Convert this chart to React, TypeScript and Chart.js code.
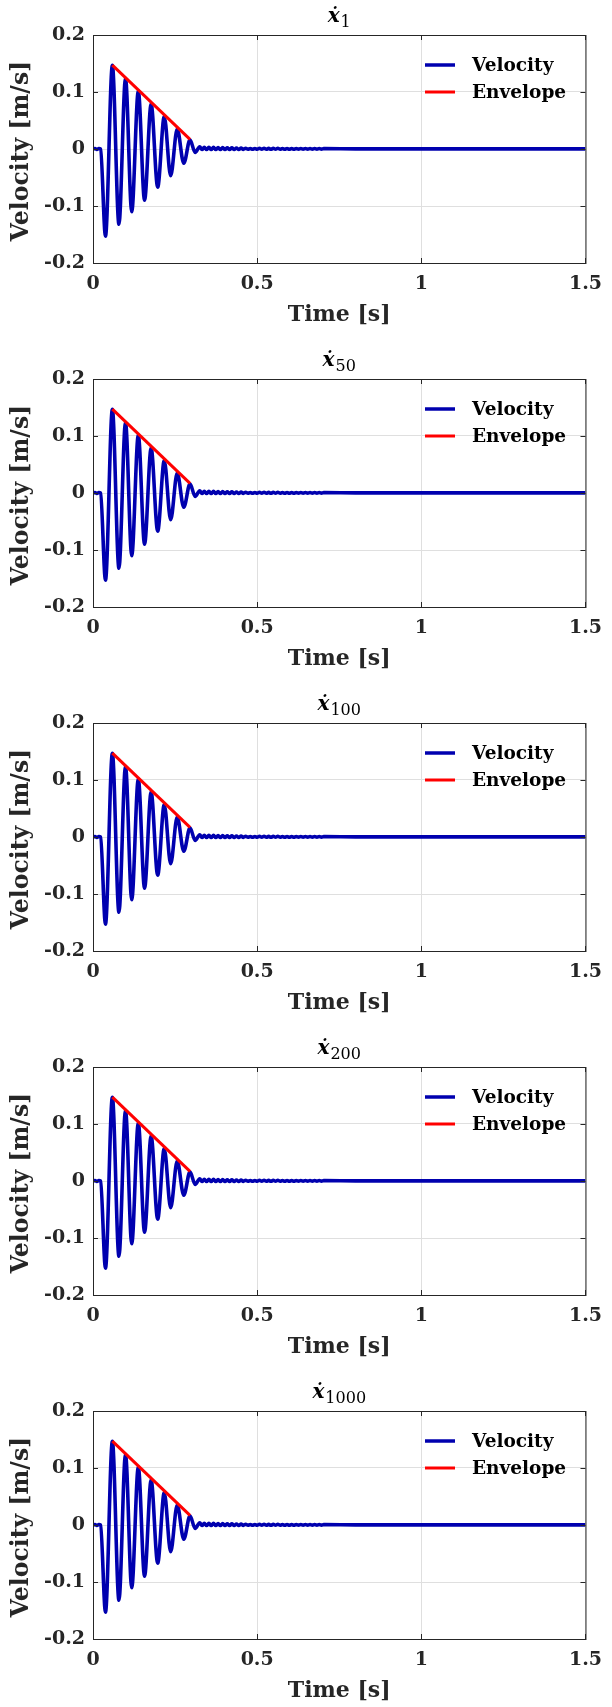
import React, { useEffect, useRef } from "react";
import { Chart, registerables } from "chart.js";

Chart.register(...registerables);

// ---- data ----
const timeS = [
  0.0, 0.006, 0.012, 0.018, 0.023, 0.038, 0.059, 0.079, 0.099, 0.118, 0.138,
  0.157, 0.177, 0.197, 0.217, 0.2365, 0.2565, 0.2765, 0.2955, 0.311, 0.325,
  0.332, 0.339, 0.346, 0.353, 0.36, 0.367, 0.374, 0.381, 0.388, 0.395, 0.402,
  0.409, 0.416, 0.423, 0.43, 0.437, 0.444, 0.451, 0.458, 0.465, 0.472, 0.479,
  0.486, 0.493, 0.5, 0.507, 0.514, 0.521, 0.528, 0.535, 0.542, 0.549, 0.556,
  0.563, 0.57, 0.577, 0.584, 0.591, 0.598, 0.605, 0.612, 0.619, 0.626, 0.633,
  0.64, 0.647, 0.654, 0.661, 0.668, 0.675, 0.682, 0.689, 0.696, 0.703, 0.8,
  1.0, 1.5,
];
const velocity = [
  0.0, 0.001, -0.001, 0.001, 0.0, -0.153, 0.147, -0.132, 0.124, -0.11, 0.102,
  -0.09, 0.079, -0.067, 0.057, -0.047, 0.035, -0.025, 0.016, -0.006, 0.004,
  -0.001, 0.003, -0.001, 0.003, -0.001, 0.003, -0.001, 0.0025, -0.001, 0.0025,
  -0.001, 0.002, -0.001, 0.002, -0.0008, 0.0018, -0.0008, 0.0015, -0.0006,
  0.0012, -0.0005, 0.001, -0.0004, 0.0008, -0.0005, 0.0012, -0.0005, 0.0012,
  -0.0005, 0.0011, -0.0005, 0.0011, -0.0004, 0.0011, -0.0004, 0.001, -0.0004,
  0.001, -0.0004, 0.001, -0.0004, 0.0009, -0.0003, 0.0009, -0.0003, 0.0009,
  -0.0003, 0.0008, -0.0003, 0.0008, -0.0003, 0.0008, -0.0003, 0.0007, 0.0003,
  0.0002, 0.0002,
];
const envelopeTime = [0.059, 0.2955];
const envelopeVel = [0.147, 0.017];
const subscripts = ["1", "50", "100", "200", "1000"];
const legendLabels = ["Velocity", "Envelope"];
const xTickValues = [0, 0.5, 1, 1.5];
const yTickValues = [-0.2, -0.1, 0, 0.1, 0.2];
const xLabel = "Time [s]";
const yLabel = "Velocity [m/s]";

const FONT = '"DejaVu Serif", serif';
const DARK = "#262626";
const BLUE = "rgb(0,0,175)";
const RED = "#ff0000";
const W = 612;
const H = 344;

function fmt(v: number): string {
  const r = Math.round(v * 10) / 10;
  if (r === 0) return "0";
  return Number.isInteger(r) ? String(r) : r.toFixed(1);
}

function Panel({ sub }: { sub: string }) {
  const ref = useRef<HTMLCanvasElement | null>(null);
  useEffect(() => {
    const canvas = ref.current;
    if (!canvas) return;

    const decor = {
      id: "decor",
      afterDraw(chart: any) {
        const { ctx, chartArea: a, scales } = chart;
        ctx.save();
        // inward ticks
        ctx.strokeStyle = DARK;
        ctx.lineWidth = 1;
        ctx.beginPath();
        xTickValues.forEach((v) => {
          const px = Math.round(scales.x.getPixelForValue(v)) + 0.5;
          ctx.moveTo(px, a.bottom);
          ctx.lineTo(px, a.bottom - 5);
          ctx.moveTo(px, a.top);
          ctx.lineTo(px, a.top + 5);
        });
        yTickValues.forEach((v) => {
          const py = Math.round(scales.y.getPixelForValue(v)) + 0.5;
          ctx.moveTo(a.left, py);
          ctx.lineTo(a.left + 5, py);
          ctx.moveTo(a.right, py);
          ctx.lineTo(a.right - 5, py);
        });
        ctx.stroke();
        // box
        ctx.strokeRect(a.left + 0.5, a.top + 0.5, a.right - a.left, a.bottom - a.top);

        // legend
        const colors = [BLUE, RED];
        const widths = [3.5, 3];
        legendLabels.forEach((lab, i) => {
          const y = 65 + i * 27;
          ctx.strokeStyle = colors[i];
          ctx.lineWidth = widths[i];
          ctx.beginPath();
          ctx.moveTo(425, y);
          ctx.lineTo(455, y);
          ctx.stroke();
          ctx.fillStyle = "#000";
          ctx.font = `bold 18.5px ${FONT}`;
          ctx.textAlign = "left";
          ctx.textBaseline = "middle";
          ctx.fillText(lab, 472, y + 1);
        });

        // title  ẋ_sub
        const cx = (a.left + a.right) / 2;
        ctx.fillStyle = "#000";
        ctx.textBaseline = "alphabetic";
        const mainFont = `italic bold 20px ${FONT}`;
        const subFont = `16px ${FONT}`;
        ctx.font = mainFont;
        const w1 = ctx.measureText("\u1E8B").width;
        ctx.font = subFont;
        const w2 = ctx.measureText(sub).width;
        const start = cx - (w1 + 1 + w2) / 2;
        ctx.font = mainFont;
        ctx.textAlign = "left";
        ctx.fillText("\u1E8B", start, 22);
        ctx.font = subFont;
        ctx.fillText(sub, start + w1 + 1, 27);

        // axis titles
        ctx.fillStyle = DARK;
        ctx.font = `bold 22px ${FONT}`;
        ctx.textAlign = "center";
        ctx.textBaseline = "middle";
        ctx.fillText(xLabel, cx, 315);
        ctx.save();
        ctx.font = `bold 23.5px ${FONT}`;
        ctx.translate(22, 151);
        ctx.rotate(-Math.PI / 2);
        ctx.fillText(yLabel, 0, 0);
        ctx.restore();

        ctx.restore();
      },
    };

    const chart = new Chart(canvas, {
      type: "line",
      data: {
        datasets: [
          {
            label: legendLabels[1],
            data: envelopeTime.map((t, i) => ({ x: t, y: envelopeVel[i] })),
            borderColor: RED,
            borderWidth: 3,
            pointRadius: 0,
            order: 0,
          },
          {
            label: legendLabels[0],
            data: timeS.map((t, i) => ({ x: t, y: velocity[i] })),
            borderColor: BLUE,
            borderWidth: 3.6,
            pointRadius: 0,
            cubicInterpolationMode: "monotone",
            order: 1,
          },
        ],
      },
      options: {
        responsive: false,
        animation: false,
        devicePixelRatio: 1,
        events: [],
        layout: { padding: { top: 35, right: 18, bottom: 0, left: 0 } },
        plugins: {
          legend: { display: false },
          tooltip: { enabled: false },
          title: { display: false },
        },
        scales: {
          x: {
            type: "linear",
            min: 0,
            max: 1.5,
            afterFit: (s: any) => {
              s.height = 81;
            },
            afterBuildTicks: (s: any) => {
              s.ticks = xTickValues.map((v) => ({ value: v }));
            },
            ticks: {
              padding: 10,
              color: DARK,
              font: { family: FONT, size: 19, weight: "bold" },
              maxRotation: 0,
              autoSkip: false,
              callback: (v: any) => fmt(Number(v)),
            },
            grid: { color: "#dfdfdf", lineWidth: 1, drawTicks: false },
            border: { display: false },
          },
          y: {
            type: "linear",
            min: -0.2,
            max: 0.2,
            afterFit: (s: any) => {
              s.width = 93;
            },
            afterBuildTicks: (s: any) => {
              s.ticks = yTickValues.map((v) => ({ value: v }));
            },
            ticks: {
              padding: 8,
              color: DARK,
              font: { family: FONT, size: 19, weight: "bold" },
              autoSkip: false,
              callback: (v: any) => fmt(Number(v)),
            },
            grid: { color: "#dfdfdf", lineWidth: 1, drawTicks: false },
            border: { display: false },
          },
        },
      },
      plugins: [decor],
    } as any);

    return () => {
      chart.destroy();
    };
  }, [sub]);

  return (
    <div style={{ width: W, height: H, position: "relative" }}>
      <canvas ref={ref} width={W} height={H} style={{ display: "block" }} />
    </div>
  );
}

export default function App() {
  return (
    <div
      style={{
        position: "absolute",
        left: 0,
        top: 0,
        width: W,
        background: "#fff",
      }}
    >
      {subscripts.map((s) => (
        <Panel key={s} sub={s} />
      ))}
    </div>
  );
}
